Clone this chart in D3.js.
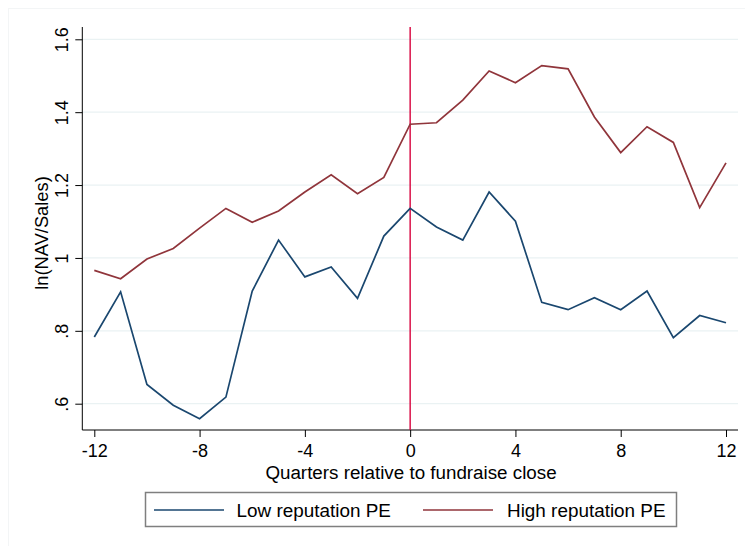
<!DOCTYPE html>
<html>
<head>
<meta charset="utf-8">
<script src="https://cdn.jsdelivr.net/npm/d3@7"></script>
<style>
  body { margin: 0; background: #fff; }
  text { font-family: "Liberation Sans", Arial, sans-serif; fill: #000; }
</style>
</head>
<body>
<svg id="chart" width="745" height="546"></svg>
<script>
// Quarters relative to fundraise close
const quarters = [-12,-11,-10,-9,-8,-7,-6,-5,-4,-3,-2,-1,0,1,2,3,4,5,6,7,8,9,10,11,12];
// ln(NAV/Sales), low-reputation PE firms
const lowRep = [0.783,0.907,0.653,0.596,0.559,0.618,0.909,1.049,0.948,0.975,0.889,1.060,
                1.136,1.085,1.049,1.181,1.101,0.878,0.858,0.891,0.858,0.909,0.781,0.842,0.822];
// ln(NAV/Sales), high-reputation PE firms
const highRep = [0.966,0.943,0.997,1.026,1.082,1.136,1.098,1.129,1.181,1.228,1.176,1.221,
                 1.367,1.371,1.433,1.513,1.481,1.528,1.519,1.387,1.289,1.360,1.317,1.138,1.261];
const xTicks = [-12,-8,-4,0,4,8,12];
const yTicks = [0.6,0.8,1.0,1.2,1.4,1.6];
const yTickLabels = [".6",".8","1","1.2","1.4","1.6"];
const seriesNames = ["Low reputation PE","High reputation PE"];
const seriesColors = ["#1a476f","#90353b"];

const svg = d3.select("#chart");
const FONT = "Liberation Sans, Arial, sans-serif";

// faint outer frame of the graph region
svg.append("rect").attr("x",8.5).attr("y",8.5).attr("width",745).attr("height",546)
  .attr("fill","none").attr("stroke","#f3f5f6").attr("stroke-width",1);

const x = d3.scaleLinear().domain([-12,12]).range([94.3,726]);
const y = d3.scaleLinear().domain([0.6,1.6]).range([403.7,39.3]);
const plotLeft = 82.3, plotRight = 738, plotTop = 27, plotBottom = 430;

// horizontal grid lines
svg.append("g").selectAll("line").data(yTicks).join("line")
  .attr("x1",plotLeft).attr("x2",plotRight)
  .attr("y1",d=>y(d)).attr("y2",d=>y(d))
  .attr("stroke","#eaf2f3").attr("stroke-width",1.2);

// y axis with vertical tick labels
const yAxis = d3.axisLeft(y).tickValues(yTicks)
  .tickFormat((d,i)=>yTickLabels[i]).tickSize(7);
const gy = svg.append("g").attr("transform",`translate(${plotLeft},0)`).call(yAxis);
gy.select(".domain").remove();
gy.append("line").attr("x1",0).attr("x2",0).attr("y1",plotTop).attr("y2",plotBottom)
  .attr("stroke","#000").attr("stroke-width",1);
gy.selectAll(".tick line").attr("stroke","#000");
gy.selectAll(".tick text")
  .attr("font-size","18px")
  .attr("font-family",FONT)
  .attr("fill","#000")
  .attr("text-anchor","middle")
  .attr("transform","translate(-21,0) rotate(-90)")
  .attr("x",0).attr("y",0).attr("dy","0.35em");

// x axis
const xAxis = d3.axisBottom(x).tickValues(xTicks).tickFormat(d=>d).tickSize(7).tickPadding(7.5);
const gx = svg.append("g").attr("transform",`translate(0,${plotBottom})`).call(xAxis);
gx.select(".domain").remove();
gx.append("line").attr("x1",plotLeft).attr("x2",plotRight).attr("y1",0).attr("y2",0)
  .attr("stroke","#000").attr("stroke-width",1);
gx.selectAll(".tick line").attr("stroke","#000");
gx.selectAll(".tick text").attr("font-size","18px")
  .attr("font-family",FONT).attr("fill","#000");

// fundraise close marker
svg.append("line").attr("x1",x(0)).attr("x2",x(0)).attr("y1",plotTop).attr("y2",plotBottom)
  .attr("stroke","#d7003c").attr("stroke-width",1.4);

// series lines
const line = d3.line().x((d,i)=>x(quarters[i])).y(d=>y(d));
[lowRep, highRep].forEach((s,k)=>{
  svg.append("path").datum(s).attr("d",line)
    .attr("fill","none").attr("stroke",seriesColors[k]).attr("stroke-width",1.7)
    .attr("stroke-linejoin","miter");
});

// axis titles
svg.append("text").attr("x",411).attr("y",479).attr("text-anchor","middle")
  .attr("font-size","18.8px").text("Quarters relative to fundraise close");
svg.append("text").attr("transform",`translate(48,233) rotate(-90)`)
  .attr("text-anchor","middle").attr("font-size","18.3px").text("ln(NAV/Sales)");

// legend
const lg = svg.append("g");
lg.append("rect").attr("x",145.5).attr("y",492.5).attr("width",531).attr("height",34)
  .attr("fill","#fff").attr("stroke","#7f7f7f").attr("stroke-width",1.5);
const legendPos = [{lx:154, tx:236.5},{lx:423, tx:507}];
seriesNames.forEach((name,k)=>{
  lg.append("line").attr("x1",legendPos[k].lx).attr("x2",legendPos[k].lx+70)
    .attr("y1",510).attr("y2",510)
    .attr("stroke",seriesColors[k]).attr("stroke-width",1.6);
  lg.append("text").attr("x",legendPos[k].tx).attr("y",517)
    .attr("font-size","18.9px").text(name);
});
</script>
</body>
</html>
